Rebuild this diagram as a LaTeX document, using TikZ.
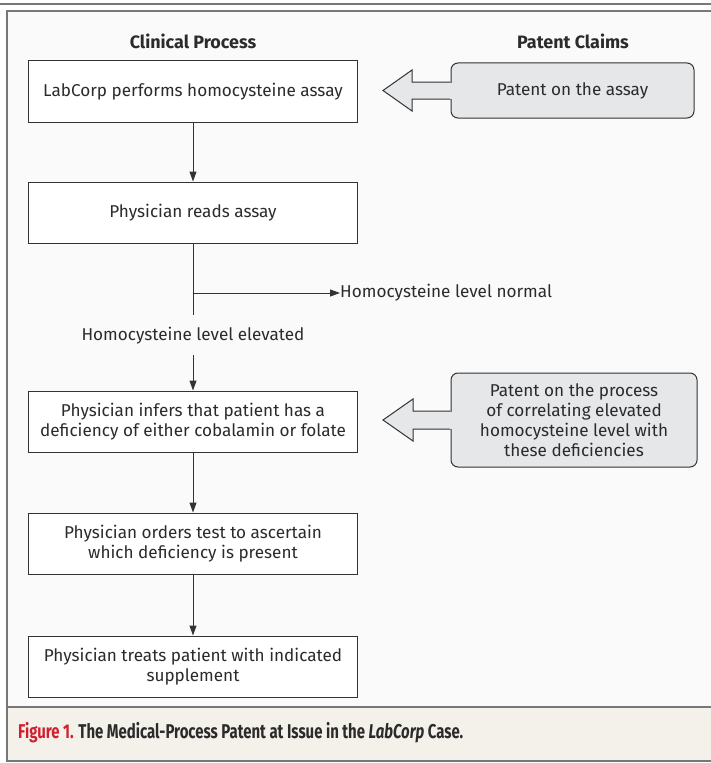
\documentclass[tikz,border=0pt]{standalone}
\usepackage{fontspec}
\usepackage{graphicx}
\setmainfont{Fira Sans}
\usetikzlibrary{arrows.meta}
\definecolor{framegray}{HTML}{777777}
\definecolor{bgin}{HTML}{FAFAFA}
\definecolor{capbg}{HTML}{F4F1EB}
\definecolor{boxline}{HTML}{333333}
\definecolor{patgray}{HTML}{E6E7E8}
\definecolor{txt}{HTML}{2B2B2B}
\definecolor{figred}{HTML}{D0202E}
\tikzset{
  procbox/.style={draw=boxline, fill=white, line width=1bp, minimum width=328bp,
    minimum height=61bp, align=center, text=txt, font=\fontsize{17.2}{20}\selectfont, inner sep=0pt},
  patbox/.style={draw=boxline, fill=patgray, line width=1bp, rounded corners=7bp,
    align=center, text=txt, font=\fontsize{17.2}{20}\selectfont, inner sep=0pt},
  head/.style={text=txt, font=\bfseries\fontsize{18}{20}\selectfont},
  lbl/.style={text=txt, font=\fontsize{17.2}{20}\selectfont, inner sep=0pt},
  flow/.style={draw=boxline, line width=1bp, -{Triangle[length=10bp,width=7bp]}},
  plain/.style={draw=boxline, line width=1bp},
  patarrow/.style={draw=boxline, fill=patgray, line width=1bp, line join=miter}
}
\begin{document}
\begin{tikzpicture}[x=1bp,y=-1bp]
\useasboundingbox (0,0) rectangle (711,763);
% frame and background
\fill[bgin] (7,11) rectangle (713,707);
\fill[capbg] (7,707) rectangle (713,761);
\draw[framegray, line width=2bp] (0,4) -- (711,4);
\draw[framegray, line width=2bp] (713,11) -- (7,11) -- (7,761) -- (713,761);
\draw[framegray, line width=2bp] (7,707) -- (713,707);
% headers
\node[head] (hc) at (193,41) {Clinical Process};
\node[head] (hp) at (573,41) {Patent Claims};
% process boxes
\node[procbox] (b1) at (193,91.5) {LabCorp performs homocysteine assay};
\node[procbox] (b2) at (193,212.5) {Physician reads assay};
\node[procbox] (b3) at (193,421.5) {Physician infers that patient has a\\deficiency of either cobalamin or folate};
\node[procbox] (b4) at (193,543.5) {Physician orders test to ascertain\\which deficiency is present};
\node[procbox] (b5) at (193,666.5) {Physician treats patient with indicated\\supplement};
% branch
\coordinate (split) at (193,293);
\coordinate (vend) at (193,315);
\node[lbl, anchor=west] (norm) at (340,293) {Homocysteine level normal};
\node[lbl] (elev) at (193,336) {Homocysteine level elevated};
\coordinate (astart) at (193,355);
\draw[flow] (b1) -- (b2);
\draw[plain] (b2) -- (vend);
\draw[flow] (split) -- (norm.west);
\draw[flow] (astart) -- (b3);
\draw[flow] (b3) -- (b4);
\draw[flow] (b4) -- (b5);
% patent boxes
\node[patbox, minimum width=243bp, minimum height=55bp] (pa) at (572.5,90.5) {Patent on the assay};
\node[patbox, minimum width=246bp, minimum height=94bp] (pb) at (574,420) {Patent on the process\\of correlating elevated\\homocysteine level with\\these deficiencies};
% patent arrows
\filldraw[patarrow] ([yshift=8.5bp]pa.west) -- (412,82) -- (412,70) -- (383,90.5) -- (412,111) -- (412,99) -- ([yshift=-8.5bp]pa.west);
\fill[patgray] ([xshift=-1bp,yshift=8bp]pa.west) rectangle ([xshift=1.2bp,yshift=-8bp]pa.west);
\filldraw[patarrow] ([yshift=9bp]pb.west) -- (413,411) -- (413,399) -- (383,420) -- (413,441) -- (413,429) -- ([yshift=-9bp]pb.west);
\fill[patgray] ([xshift=-1bp,yshift=8.5bp]pb.west) rectangle ([xshift=1.2bp,yshift=-8.5bp]pb.west);
% caption
\node[anchor=west, inner sep=0pt, font=\bfseries\fontsize{20}{22}\selectfont, text=txt] (cap) at (18,733)
  {\scalebox{0.75}[1]{\textcolor{figred}{Figure 1.} The Medical-Process Patent at Issue in the \textit{LabCorp} Case.}};
\end{tikzpicture}
\end{document}
